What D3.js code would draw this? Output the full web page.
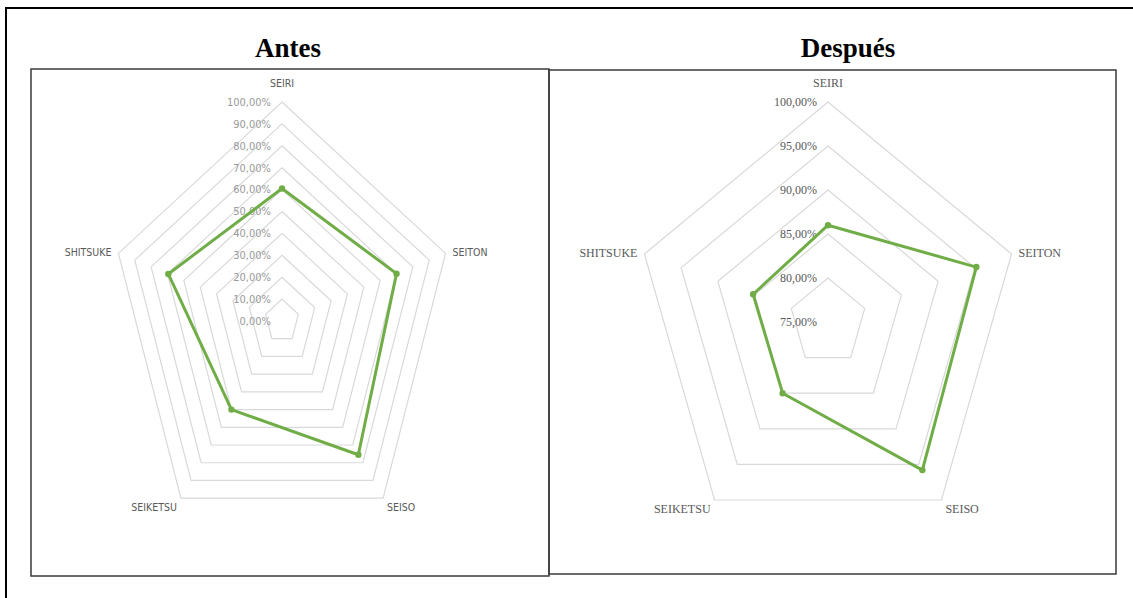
<!DOCTYPE html>
<html>
<head>
<meta charset="utf-8">
<script src="https://cdn.jsdelivr.net/npm/d3@7"></script>
<style>
  body { margin: 0; background: #fff; }
</style>
</head>
<body>
<svg id="chart" width="1133" height="598"></svg>
<script>
const categories = ["SEIRI", "SEITON", "SEISO", "SEIKETSU", "SHITSUKE"]
const antesValues = [0.605, 0.70, 0.755, 0.50, 0.695]
const despuesValues = [0.86, 0.952, 0.958, 0.85, 0.852]
const antesTicks = [0, 0.1, 0.2, 0.3, 0.4, 0.5, 0.6, 0.7, 0.8, 0.9, 1.0]
const despuesTicks = [0.75, 0.80, 0.85, 0.90, 0.95, 1.0]

const svg = d3.select("#chart")
const fmt = v => d3.format(".2f")(v * 100).replace(".", ",") + "%"

// outer frame (only left + top visible in the picture)
svg.append("path")
  .attr("d", "M6,598 V8 H1133")
  .attr("fill", "none").attr("stroke", "#000").attr("stroke-width", 2)

function drawRadar(cfg) {
  const g = svg.append("g")

  g.append("rect")
    .attr("x", cfg.box[0]).attr("y", cfg.box[1])
    .attr("width", cfg.box[2]).attr("height", cfg.box[3])
    .attr("fill", "none").attr("stroke", "#3a3a3a").attr("stroke-width", 1.5)

  g.append("text")
    .attr("x", cfg.titleX).attr("y", 57)
    .attr("text-anchor", "middle")
    .attr("font-family", "'Liberation Serif', 'Times New Roman', serif")
    .attr("font-weight", "bold").attr("font-size", 27)
    .text(cfg.title)

  const r = d3.scaleLinear().domain(d3.extent(cfg.ticks)).range([0, cfg.ry])
  const kx = cfg.rx / cfg.ry
  const angle = d3.scaleLinear().domain([0, categories.length]).range([0, 2 * Math.PI])
  const pt = (i, v) => {
    const a = angle(i)
    return [cfg.cx + Math.sin(a) * r(v) * kx, cfg.cy - Math.cos(a) * r(v)]
  }
  const line = d3.line().curve(d3.curveLinearClosed)

  // grid rings
  g.selectAll("path.ring")
    .data(cfg.ticks.filter(t => r(t) > 0))
    .join("path")
    .attr("class", "ring")
    .attr("d", t => line(categories.map((c, i) => pt(i, t))))
    .attr("fill", "none").attr("stroke", "#d9d9d9").attr("stroke-width", 1.2)

  // tick labels
  g.selectAll("text.tick")
    .data(cfg.ticks)
    .join("text")
    .attr("class", "tick")
    .attr("x", cfg.cx - 11)
    .attr("y", t => cfg.cy - r(t))
    .attr("dy", "0.35em")
    .attr("text-anchor", "end")
    .attr("font-family", cfg.font).attr("font-size", cfg.tickSize)
    .attr("fill", cfg.tickColor)
    .text(fmt)

  // category labels
  g.selectAll("text.cat")
    .data(categories)
    .join("text")
    .attr("class", "cat")
    .each(function (c, i) {
      const [x, y] = pt(i, cfg.ticks[cfg.ticks.length - 1])
      const s = Math.sin(angle(i)), co = Math.cos(angle(i))
      const t = d3.select(this)
      if (Math.abs(s) < 0.01) {
        t.attr("x", x).attr("y", y - 15).attr("text-anchor", "middle")
      } else if (co > 0) {
        t.attr("x", x + (s > 0 ? 7 : -7)).attr("y", y + 3).attr("text-anchor", s > 0 ? "start" : "end")
      } else {
        t.attr("x", x + (s > 0 ? 4 : -4)).attr("y", y + 13).attr("text-anchor", s > 0 ? "start" : "end")
      }
    })
    .attr("font-family", cfg.font).attr("font-size", cfg.catSize)
    .attr("fill", cfg.catColor)
    .text(d => d)

  // series
  const pts = cfg.values.map((v, i) => pt(i, v))
  g.append("path")
    .attr("d", line(pts))
    .attr("fill", "none").attr("stroke", "#70ad47").attr("stroke-width", 3)
    .attr("stroke-linejoin", "round")

  g.selectAll("circle.dot")
    .data(pts)
    .join("circle")
    .attr("class", "dot")
    .attr("cx", d => d[0]).attr("cy", d => d[1]).attr("r", 3.2)
    .attr("fill", "#70ad47")
}

drawRadar({
  title: "Antes", titleX: 288,
  box: [31, 69, 518, 507],
  cx: 282, cy: 321, rx: 172, ry: 219,
  ticks: antesTicks, values: antesValues,
  font: "'Liberation Sans Narrow', 'Arial Narrow', 'DejaVu Sans Condensed', sans-serif",
  tickSize: 11, catSize: 10.5,
  tickColor: "#9a9a9a", catColor: "#595959"
})

drawRadar({
  title: "Después", titleX: 848,
  box: [549, 70, 567, 504],
  cx: 828, cy: 322, rx: 193, ry: 220,
  ticks: despuesTicks, values: despuesValues,
  font: "'Liberation Serif', 'Times New Roman', serif",
  tickSize: 12, catSize: 12,
  tickColor: "#595959", catColor: "#595959"
})
</script>
</body>
</html>
